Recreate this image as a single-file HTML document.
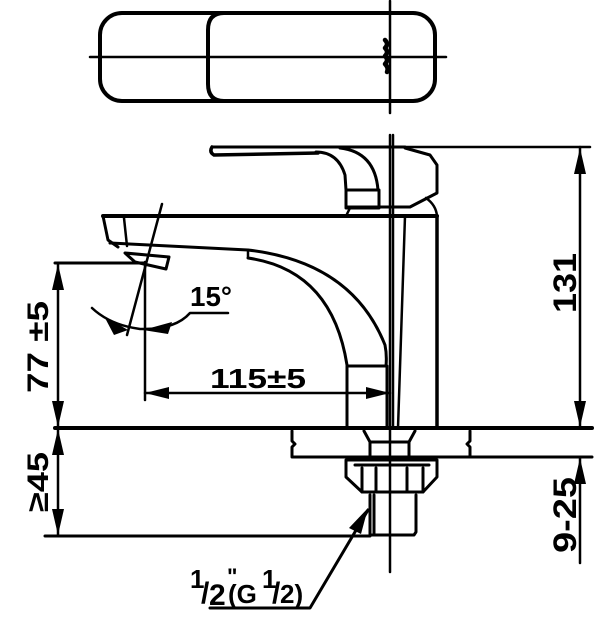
<!DOCTYPE html>
<html><head><meta charset="utf-8"><style>
html,body{margin:0;padding:0;background:#fff;width:600px;height:621px;overflow:hidden}
svg{display:block}
text{font-family:"Liberation Sans","DejaVu Sans",sans-serif;font-weight:bold;fill:#000}
</style></head><body>
<svg width="600" height="621" viewBox="0 0 600 621" xmlns="http://www.w3.org/2000/svg" fill="none" stroke="#000" stroke-linecap="round" stroke-linejoin="round">
<!-- top view -->
<rect x="100" y="13" width="335" height="88" rx="22" stroke-width="4"/>
<path d="M224 13 Q208 13 208 30 V84 Q208 101 224 101" stroke-width="4"/>
<line x1="90" y1="57" x2="446" y2="57" stroke-width="2.5"/>
<line x1="390" y1="1" x2="390" y2="113" stroke-width="2.5"/>
<path d="M385 40 q4 4 0 8 q4 4 0 8 q4 4 0 8 q4 4 2 8" stroke-width="4.5"/>

<!-- side view: handle -->
<path d="M212 147 Q209 152 214 155 L318 153" stroke-width="3.5"/>
<line x1="212" y1="147" x2="405" y2="147" stroke-width="3"/>
<line x1="400" y1="147" x2="590" y2="147" stroke-width="2.5"/>
<path d="M316 152 Q338 152 345 175 L346 190" stroke-width="3"/>
<path d="M340 148 Q375 152 378 190" stroke-width="3"/>
<rect x="346" y="190" width="33" height="18" stroke-width="3"/>
<path d="M405 148 L430 155 L437 165 L437 193 L410 207 L346 207" stroke-width="3"/>
<path d="M350 208 L347 214" stroke-width="2.5"/>
<path d="M426 198 Q436 205 437 216" stroke-width="2.5"/>
<!-- spout -->
<line x1="103" y1="216" x2="437" y2="216" stroke-width="4"/>
<path d="M103 216 L108 240 L118 247" stroke-width="3"/>
<line x1="124" y1="218" x2="127" y2="246" stroke-width="2.5"/>
<path d="M110 243 L248 250 Q352 262 385 345 Q387 355 386 366" stroke-width="3"/>
<path d="M125 253 L169 257 L166 269 L135 262 Z" stroke-width="3"/>
<path d="M248 250 L248 258" stroke-width="2.5"/>
<path d="M248 258 Q332 270 347 365" stroke-width="3"/>
<rect x="347" y="366" width="40" height="62" stroke-width="3"/>
<line x1="437" y1="216" x2="437" y2="428" stroke-width="3.5"/>
<line x1="405" y1="216" x2="398" y2="428" stroke-width="2.5"/>
<line x1="390" y1="135" x2="390" y2="572" stroke-width="2.5"/>
<line x1="393" y1="135" x2="393" y2="428" stroke-width="2.5"/>

<!-- base / counter -->
<line x1="55" y1="428" x2="592" y2="428" stroke-width="4"/>
<path d="M292 431 V441 l3 3 l-3 3 V457 H470 V447 l-3 -3 l3 -3 V431" stroke-width="3"/>
<line x1="392" y1="457" x2="592" y2="457" stroke-width="3"/>
<path d="M364 431 L370 442 V457 M415 431 L409 442 V457 M370 442 H409" stroke-width="3"/>
<path d="M346 460 V477 L362 492 H423 L437 477 V460 Z" stroke-width="3"/>
<path d="M355 465 H429 M362 468 V492 M376 468 V492 M407 468 V492 M423 468 V492" stroke-width="3"/>
<path d="M370 495 V535 H414 L416 532 V495" stroke-width="3"/>
<line x1="374" y1="495" x2="374" y2="535" stroke-width="3"/>
<line x1="45" y1="536" x2="370" y2="536" stroke-width="3"/>

<!-- 115 dimension -->
<line x1="145" y1="262" x2="145" y2="400" stroke-width="2.5"/>
<line x1="55" y1="263" x2="145" y2="263" stroke-width="3"/>
<line x1="145" y1="393" x2="390" y2="393" stroke-width="2.5"/>
<path d="M145 393 l24 -6 v12 Z M390 393 l-24 -6 v12 Z" fill="#000" stroke="none"/>
<text x="210" y="388" font-size="28" stroke="none" textLength="96" lengthAdjust="spacingAndGlyphs">115±5</text>

<!-- 15 deg -->
<line x1="162" y1="204" x2="127" y2="335" stroke-width="2.5"/>
<path d="M92 308 Q110 325 140 329 Q175 330 190 313 L228 313" stroke-width="2.5"/>
<path d="M104 316 L128 330 L114 335 Z" fill="#000" stroke="none"/>
<path d="M143 330 L172 322 L168 334 Z" fill="#000" stroke="none"/>
<text x="190" y="306" font-size="28" stroke="none" textLength="42" lengthAdjust="spacingAndGlyphs">15°</text>

<!-- left dims -->
<line x1="58" y1="263" x2="58" y2="536" stroke-width="2.5"/>
<path d="M58 264 l-6 26 h12 Z M58 427 l-6 -26 h12 Z M58 429 l-6 26 h12 Z M58 535 l-6 -26 h12 Z" fill="#000" stroke="none"/>
<text transform="translate(48,347) rotate(-90)" text-anchor="middle" font-size="30" stroke="none" textLength="92" lengthAdjust="spacingAndGlyphs">77 ±5</text>
<text transform="translate(48,482) rotate(-90)" text-anchor="middle" font-size="30" stroke="none" textLength="60" lengthAdjust="spacingAndGlyphs">≥45</text>

<!-- right dims -->
<line x1="580" y1="147" x2="580" y2="428" stroke-width="2.5"/>
<path d="M580 148 l-6 26 h12 Z M580 427 l-6 -26 h12 Z M580 458 l-6 26 h12 Z" fill="#000" stroke="none"/>
<line x1="580" y1="458" x2="580" y2="563" stroke-width="2.5"/>
<text transform="translate(576,283) rotate(-90)" text-anchor="middle" font-size="32" stroke="none" textLength="60" lengthAdjust="spacingAndGlyphs">131</text>
<text transform="translate(576,515) rotate(-90)" text-anchor="middle" font-size="32" stroke="none" textLength="76" lengthAdjust="spacingAndGlyphs">9-25</text>

<!-- leader -->
<path d="M368 510 L310 608 L210 608" stroke-width="3"/>
<path d="M368 508 L349 528 L361 534 Z" fill="#000" stroke="none"/>
<text x="190" y="588" font-size="26" stroke="none">1</text>
<text x="201" y="603" font-size="30" stroke="none">/</text>
<text x="209" y="605" font-size="30" stroke="none">2</text>
<text x="227" y="584" font-size="22" stroke="none">"</text>
<text x="228" y="603" font-size="26" stroke="none">(G</text>
<text x="262" y="588" font-size="26" stroke="none">1</text>
<text x="272" y="603" font-size="30" stroke="none">/</text>
<text x="280" y="603" font-size="26" stroke="none">2)</text>
</svg>
</body></html>
